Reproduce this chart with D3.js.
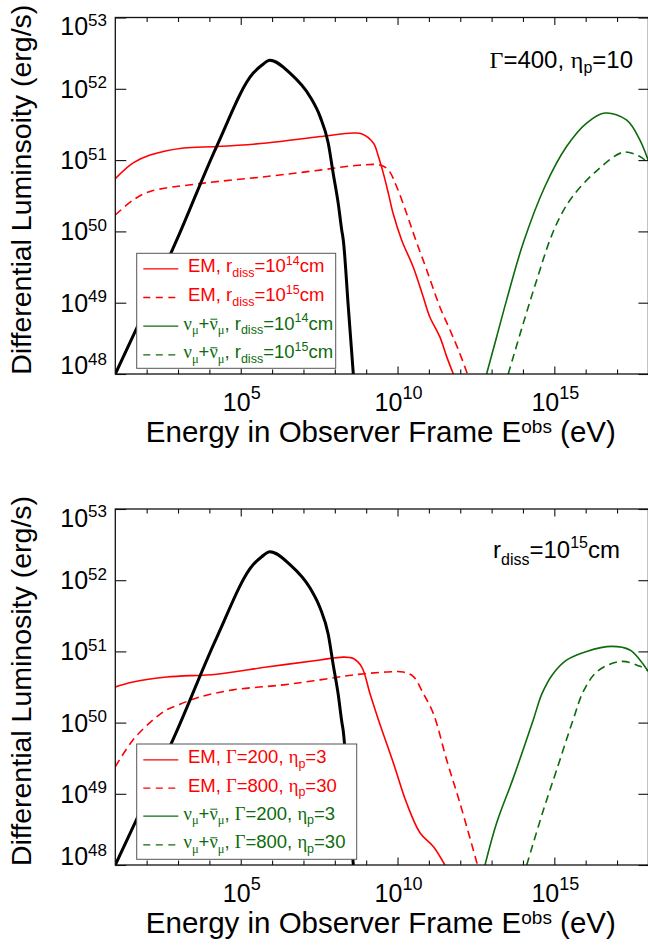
<!DOCTYPE html>
<html><head><meta charset="utf-8">
<script src="https://cdn.jsdelivr.net/npm/d3@7/dist/d3.min.js"></script>
<style>body{margin:0;background:#fff}svg{display:block}</style>
</head><body>
<svg id="chart" width="648" height="946"></svg>
<script>
// ---------- DATA: points are [log10(E_obs / eV), log10(L / erg s^-1)] ----------
const photonSpectrum = [[1.0,48.0],[1.68,48.64],[2.96,49.88],[4.23,51.19],[5.40,52.22],[5.67,52.33],[5.93,52.40],[6.57,52.22],[7.21,51.89],[7.53,51.61],[7.79,51.24],[7.95,50.81],[8.11,50.39],[8.22,50.02],[8.27,49.88],[8.43,48.94],[8.59,48.0]];

// top panel (Gamma=400, eta_p=10)
const emR14 = [[1.0,50.74],[1.57,50.96],[2.11,51.07],[3.17,51.17],[4.23,51.19],[5.83,51.24],[7.53,51.33],[8.59,51.38],[8.85,51.37],[9.23,51.24],[9.39,51.05],[9.55,50.81],[9.71,50.53],[9.86,50.25],[10.13,49.88],[10.50,49.50],[10.82,49.08],[11.03,48.80],[11.35,48.52],[11.57,48.24],[11.78,48.0]];
const emR15 = [[1.0,50.23],[1.57,50.44],[2.11,50.56],[3.70,50.67],[5.83,50.77],[7.53,50.86],[8.59,50.92],[9.44,50.93],[9.71,50.86],[9.97,50.63],[10.29,50.25],[10.58,49.88],[10.93,49.46],[11.35,48.94],[11.67,48.62],[11.94,48.34],[12.23,48.0]];
const nuR14 = [[12.84,48.0],[13.16,48.52],[13.48,49.04],[14.01,49.84],[14.70,50.63],[15.39,51.19],[16.03,51.52],[16.62,51.66],[17.31,51.56],[17.73,51.28],[17.99,51.0]];
const nuR15 = [[13.53,48.0],[14.01,48.71],[14.44,49.32],[14.86,49.88],[15.20,50.22],[15.60,50.50],[16.35,50.85],[17.20,51.11],[17.73,51.05],[17.99,50.96]];

// bottom panel (r_diss = 1e15 cm)
const emG200 = [[1.0,50.50],[1.57,50.57],[2.64,50.64],[4.23,50.68],[5.83,50.78],[7.53,50.88],[8.27,50.92],[8.59,50.90],[8.86,50.78],[9.12,50.41],[9.39,50.04],[9.87,49.43],[10.29,48.87],[10.72,48.45],[11.14,48.26],[11.51,48.0]];
const emG800 = [[1.0,49.38],[1.57,49.76],[2.21,50.04],[2.64,50.18],[2.96,50.24],[3.70,50.36],[4.76,50.46],[6.36,50.53],[7.53,50.60],[8.59,50.67],[9.65,50.71],[10.18,50.71],[10.50,50.65],[10.82,50.41],[11.14,50.13],[11.57,49.47],[11.99,48.87],[12.55,48.0]];
const nuG200 = [[12.79,48.0],[13.16,48.59],[13.69,49.22],[14.33,50.04],[14.60,50.40],[14.95,50.68],[15.40,50.88],[16.03,51.0],[16.83,51.07],[17.41,51.02],[17.73,50.88],[17.99,50.72]];
const nuG800 = [[14.12,48.0],[14.65,48.77],[15.07,49.33],[15.60,50.04],[15.95,50.46],[16.40,50.73],[17.15,50.86],[17.73,50.79],[17.99,50.73]];

// axis ticks (exponents)
const xMajorExps = [5,10,15];
const xMinorExps = [2,3,4,6,7,8,9,11,12,13,14,16,17];
const yTickExps = [48,49,50,51,52,53];
const xDomainExps = [1,18];
const yDomainExps = [48,53];

// texts
const yTitles = ["Differential Luminsoity (erg/s)", "Differential Luminosity (erg/s)"];
const legendTop = [
  [{t:"EM, r"},{t:"diss",s:"sub"},{t:"=10"},{t:"14",s:"sup"},{t:"cm"}],
  [{t:"EM, r"},{t:"diss",s:"sub"},{t:"=10"},{t:"15",s:"sup"},{t:"cm"}],
  [{t:"ν",f:1},{t:"μ",s:"sub",f:1},{t:"+"},{t:"ν",f:1,bar:1},{t:"μ",s:"sub",f:1},{t:", r"},{t:"diss",s:"sub"},{t:"=10"},{t:"14",s:"sup"},{t:"cm"}],
  [{t:"ν",f:1},{t:"μ",s:"sub",f:1},{t:"+"},{t:"ν",f:1,bar:1},{t:"μ",s:"sub",f:1},{t:", r"},{t:"diss",s:"sub"},{t:"=10"},{t:"15",s:"sup"},{t:"cm"}]
];
const legendBottom = [
  [{t:"EM, "},{t:"Γ",f:1},{t:"=200, "},{t:"η",f:1},{t:"p",s:"sub"},{t:"=3"}],
  [{t:"EM, "},{t:"Γ",f:1},{t:"=800, "},{t:"η",f:1},{t:"p",s:"sub"},{t:"=30"}],
  [{t:"ν",f:1},{t:"μ",s:"sub",f:1},{t:"+"},{t:"ν",f:1,bar:1},{t:"μ",s:"sub",f:1},{t:", "},{t:"Γ",f:1},{t:"=200, "},{t:"η",f:1},{t:"p",s:"sub"},{t:"=3"}],
  [{t:"ν",f:1},{t:"μ",s:"sub",f:1},{t:"+"},{t:"ν",f:1,bar:1},{t:"μ",s:"sub",f:1},{t:", "},{t:"Γ",f:1},{t:"=800, "},{t:"η",f:1},{t:"p",s:"sub"},{t:"=30"}]
];
const noteTop = [{t:"Γ",f:1},{t:"=400, "},{t:"η",f:1},{t:"p",s:"sub"},{t:"=10"}];
const noteBottom = [{t:"r"},{t:"diss",s:"sub"},{t:"=10"},{t:"15",s:"sup"},{t:"cm"}];

// ---------- STYLE / LAYOUT ----------
const RED = "#ff0000", GREEN = "#0c6b0c", BLACK = "#000";
const SANS = "'Liberation Sans', Arial, Helvetica, sans-serif";
const SERIF = "'Liberation Serif', 'DejaVu Serif', 'Times New Roman', serif";
const DASH = "8,5";
const X0 = 115.3, X1 = 648.4;

const panels = [
  {top:17.5, bottom:374, yTitle:yTitles[0], note:noteTop, noteX:633, noteY:68.3, noteSub:5, noteSup:10,
   curves:[{d:emR14,c:RED},{d:emR15,c:RED,dash:1},{d:nuR14,c:GREEN},{d:nuR15,c:GREEN,dash:1}],
   legend:legendTop, legBox:[136.7,253.3,335.7,368.3], legBase:[272.3,301,329.7,358.3]},
  {top:509, bottom:865, yTitle:yTitles[1], note:noteBottom, noteX:620, noteY:558, noteSub:7, noteSup:10,
   curves:[{d:emG200,c:RED},{d:emG800,c:RED,dash:1},{d:nuG200,c:GREEN},{d:nuG800,c:GREEN,dash:1}],
   legend:legendBottom, legBox:[136.7,744,356.7,859.3], legBase:[763.3,791.7,819.7,848.3]}
];

const svg = d3.select("#chart");
const x = d3.scaleLog().domain(xDomainExps.map(e=>10**e)).range([X0, X1]);

function rich(textSel, parts, size, opts) {
  opts = opts || {};
  const subSize = opts.subSize || size*0.67;
  const subDy = opts.subDy != null ? opts.subDy : size*0.25;
  const supDy = opts.supDy != null ? opts.supDy : size*0.42;
  let cur = 0;
  const bars = [];
  parts.forEach(p => {
    const target = p.s === "sub" ? subDy : p.s === "sup" ? -supDy : 0;
    const ts = textSel.append("tspan").text(p.t)
      .attr("dy", target - cur)
      .style("font-size", (p.s ? subSize : size) + "px")
      .style("font-family", p.f ? SERIF : SANS);
    cur = target;
    if (p.bar) bars.push(ts);
  });
  return bars;
}

panels.forEach((P, pi) => {
  const y = d3.scaleLog().domain(yDomainExps.map(e=>10**e)).range([P.bottom, P.top]);
  const g = svg.append("g");
  const clipId = "clip" + pi;
  svg.append("clipPath").attr("id", clipId).append("rect")
    .attr("x", X0).attr("y", P.top).attr("width", X1 - X0).attr("height", P.bottom - P.top);

  const smooth = d3.line().x(d => x(10**d[0])).y(d => y(10**d[1])).curve(d3.curveCatmullRom.alpha(0.5));
  const mono = d3.line().x(d => x(10**d[0])).y(d => y(10**d[1])).curve(d3.curveMonotoneX);
  const cg = g.append("g").attr("clip-path", `url(#${clipId})`);
  P.curves.forEach(c => {
    cg.append("path").attr("d", smooth(c.d)).attr("fill","none")
      .attr("stroke", c.c).attr("stroke-width", 1.6)
      .attr("stroke-dasharray", c.dash ? DASH : null);
  });
  cg.append("path").attr("d", mono(photonSpectrum)).attr("fill","none")
    .attr("stroke", BLACK).attr("stroke-width", 3).attr("stroke-linejoin","round");

  // axes
  const axStyle = sel => { sel.select(".domain").remove(); sel.selectAll("line").attr("stroke","#111").attr("stroke-width",1.1); sel.selectAll("text").remove(); };
  g.append("g").attr("transform",`translate(0,${P.bottom})`).call(d3.axisBottom(x).tickValues(xMinorExps.map(e=>10**e)).tickSize(-4.5)).call(axStyle);
  g.append("g").attr("transform",`translate(0,${P.bottom})`).call(d3.axisBottom(x).tickValues(xMajorExps.map(e=>10**e)).tickSize(-7.5)).call(axStyle);
  g.append("g").attr("transform",`translate(0,${P.top})`).call(d3.axisTop(x).tickValues(xMinorExps.map(e=>10**e)).tickSize(-4.5)).call(axStyle);
  g.append("g").attr("transform",`translate(0,${P.top})`).call(d3.axisTop(x).tickValues(xMajorExps.map(e=>10**e)).tickSize(-7.5)).call(axStyle);
  g.append("g").attr("transform",`translate(${X0},0)`).call(d3.axisLeft(y).tickValues(yTickExps.map(e=>10**e)).tickSize(-11)).call(axStyle);
  g.append("g").attr("transform",`translate(${X1},0)`).call(d3.axisRight(y).tickValues(yTickExps.map(e=>10**e)).tickSize(-10)).call(axStyle);
  g.append("rect").attr("x",X0).attr("y",P.top).attr("width",X1-X0).attr("height",P.bottom-P.top)
    .attr("fill","none").attr("stroke","#111").attr("stroke-width",1.3);

  // y tick labels
  yTickExps.forEach((e, i) => {
    const ty = y(10**e);
    const base = e === yDomainExps[1] ? ty + 17.5 : e === yDomainExps[0] ? ty : ty + 9;
    const t = g.append("text").attr("x", 107).attr("y", base).attr("text-anchor","end")
      .style("font-family", SANS).attr("fill","#000");
    t.append("tspan").text("10").style("font-size","25px");
    t.append("tspan").text(String(e)).style("font-size","17px").attr("dy",-9.5);
  });
  // x tick labels
  xMajorExps.forEach(e => {
    const t = g.append("text").attr("x", x(10**e) + 1).attr("y", P.bottom + 37).attr("text-anchor","middle")
      .style("font-family", SANS).attr("fill","#000");
    t.append("tspan").text("10").style("font-size","25px");
    t.append("tspan").text(String(e)).style("font-size","18px").attr("dy",-12);
  });
  // x title
  const xt = g.append("text").attr("x", (X0+X1)/2 - 1).attr("y", P.bottom + 68).attr("text-anchor","middle")
    .style("font-family", SANS).style("font-size","29.5px").attr("fill","#000");
  xt.append("tspan").text("Energy in Observer Frame E");
  xt.append("tspan").text("obs").style("font-size","19px").attr("dy",-9.5);
  xt.append("tspan").text(" (eV)").attr("dy",9.5);
  // y title
  const cy = (P.top + P.bottom)/2 - 6;
  g.append("text").attr("transform",`translate(31,${cy}) rotate(-90)`).attr("text-anchor","middle")
    .style("font-family", SANS).style("font-size","28.5px").attr("fill","#000").text(P.yTitle);

  // annotation
  const nt = g.append("text").attr("x", P.noteX).attr("y", P.noteY).attr("text-anchor","end").attr("fill","#000");
  rich(nt, P.note, 24, {subSize:16, subDy:P.noteSub, supDy:P.noteSup});

  // legend
  const [lx0, ly0, lx1, ly1] = P.legBox;
  const lg = g.append("g");
  lg.append("rect").attr("x",lx0).attr("y",ly0).attr("width",lx1-lx0).attr("height",ly1-ly0)
    .attr("fill","#fff").attr("stroke","#555").attr("stroke-width",1);
  P.legend.forEach((parts, i) => {
    const cv = P.curves[i];
    const b = P.legBase[i];
    lg.append("line").attr("x1",143.3).attr("x2",178.3).attr("y1",b-3.5).attr("y2",b-3.5)
      .attr("stroke",cv.c).attr("stroke-width",1.3).attr("stroke-dasharray", cv.dash ? "7,5.5" : null);
    const isNu = parts[0].t === "ν";
    const t = lg.append("text").attr("x", isNu ? 183.5 : 188).attr("y", b).attr("fill", cv.c);
    const bars = rich(t, parts, 18.5, {subSize:12.5, subDy:4.5, supDy:7.5});
    bars.forEach(ts => {
      let bb;
      try { bb = ts.node().getBBox(); } catch(e) { bb = null; }
      if (bb && bb.width > 0) {
        lg.append("line").attr("x1", bb.x + 1).attr("x2", bb.x + bb.width - 0.5)
          .attr("y1", b - 10.5).attr("y2", b - 10.5).attr("stroke", cv.c).attr("stroke-width", 1);
      }
    });
  });
});
</script>
</body></html>
